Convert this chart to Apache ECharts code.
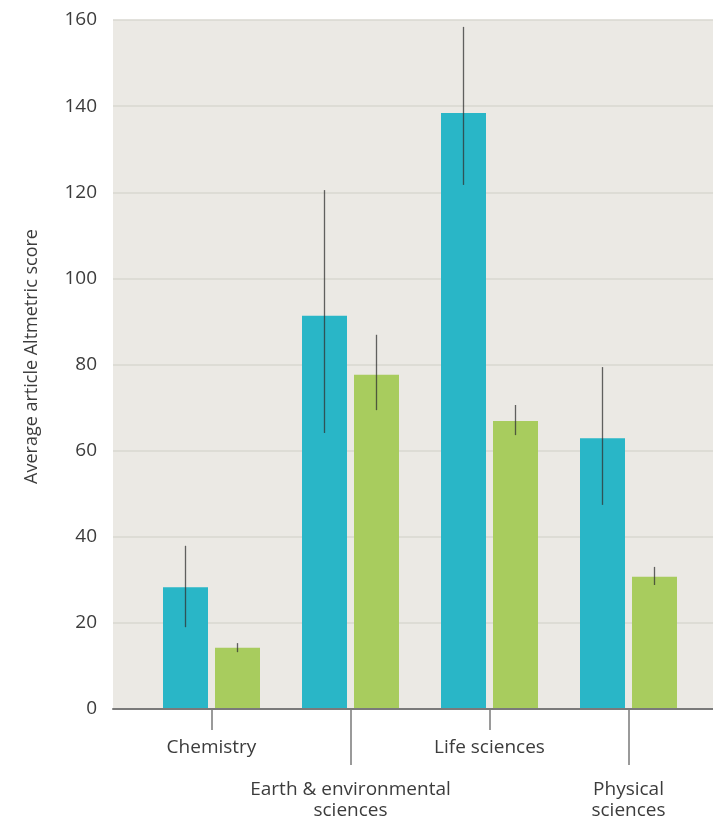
<!DOCTYPE html>
<html>
<head>
<meta charset="utf-8">
<script src="https://cdn.jsdelivr.net/npm/echarts@6/dist/echarts.min.js"></script>
<style>
html,body{margin:0;padding:0;background:#fff;}
#chart{width:713px;height:816px;}
</style>
</head>
<body>
<div id="chart"></div>
<script>
const categories = ['Chemistry', 'Earth & environmental\nsciences', 'Life sciences', 'Physical\nsciences'];
const yTicks = [0, 20, 40, 60, 80, 100, 120, 140, 160];
const blueValues = [28.3, 91.3, 138.4, 62.9];
const blueLow = [19.0, 64.1, 121.7, 47.4];
const blueHigh = [37.9, 120.5, 158.4, 79.4];
const greenValues = [14.2, 77.6, 66.9, 30.7];
const greenLow = [13.2, 69.4, 63.6, 28.8];
const greenHigh = [15.3, 86.9, 70.6, 33.0];

const BAR_W = 45, BAR_GAP = 7;
const FONT = '"Open Sans", sans-serif';
const TXT = '#3c3c3c';
const yMin = yTicks[0], yMax = yTicks[yTicks.length - 1], yStep = yTicks[1] - yTicks[0];

function errData(low, high, side) {
  return categories.map((c, i) => [i, low[i], high[i], side]);
}

const chart = echarts.init(document.getElementById('chart'), null, {renderer: 'canvas'});
chart.setOption({
  animation: false,
  backgroundColor: '#ffffff',
  grid: [
    {left: 113, right: 0, top: 20, bottom: 107, show: true, backgroundColor: '#ebe9e4', borderWidth: 0, containLabel: false, outerBoundsMode: 'none'},
    {left: 142, width: 556, top: 20, bottom: 107, containLabel: false, outerBoundsMode: 'none'}
  ],
  xAxis: [
    {gridIndex: 0, type: 'value', min: 0, max: 1, z: 10,
     axisLine: {show: true, lineStyle: {color: '#7a7a7a', width: 2}},
     axisTick: {show: false}, axisLabel: {show: false}, splitLine: {show: false}},
    {gridIndex: 1, type: 'category', data: categories, position: 'bottom',
     axisLine: {show: false},
     axisTick: {show: true, alignWithLabel: true, length: 21, interval: (i) => i % 2 === 0, lineStyle: {color: '#7a7a7a', width: 1.5}},
     axisLabel: {interval: (i) => i % 2 === 0, margin: 28, color: TXT, fontFamily: FONT, fontSize: 19, lineHeight: 21}},
    {gridIndex: 1, type: 'category', data: categories, position: 'bottom', offset: 0,
     axisLine: {show: false},
     axisTick: {show: true, alignWithLabel: true, length: 56, interval: (i) => i % 2 === 1, lineStyle: {color: '#7a7a7a', width: 1.5}},
     axisLabel: {interval: (i) => i % 2 === 1, margin: 70, color: TXT, fontFamily: FONT, fontSize: 19, lineHeight: 21}}
  ],
  yAxis: [
    {gridIndex: 0, type: 'value', min: yMin, max: yMax, interval: yStep,
     name: 'Average article Altmetric score', nameLocation: 'middle', nameGap: 72,
     nameTextStyle: {color: TXT, fontFamily: FONT, fontSize: 18, padding: [0, 0, 0, 16]},
     axisLine: {show: false}, axisTick: {show: false},
     axisLabel: {color: TXT, fontFamily: FONT, fontSize: 19, margin: 16},
     splitLine: {show: true, lineStyle: {color: '#d9d7d1', width: 1.5}}},
    {gridIndex: 1, type: 'value', min: yMin, max: yMax, interval: yStep, show: false}
  ],
  series: [
    {name: 'Blue', type: 'bar', xAxisIndex: 1, yAxisIndex: 1, data: blueValues,
     barWidth: BAR_W, barGap: (BAR_GAP / BAR_W * 100) + '%', itemStyle: {color: '#29b6c7'}},
    {name: 'Green', type: 'bar', xAxisIndex: 1, yAxisIndex: 1, data: greenValues,
     barWidth: BAR_W, itemStyle: {color: '#a8cc5e'}},
    {name: 'Error', type: 'custom', xAxisIndex: 1, yAxisIndex: 1, z: 5,
     data: errData(blueLow, blueHigh, -1).concat(errData(greenLow, greenHigh, 1)),
     renderItem: function (params, api) {
       const i = api.value(0), side = api.value(3);
       const off = side * (BAR_W + BAR_GAP) / 2;
       const p1 = api.coord([i, api.value(1)]);
       const p2 = api.coord([i, api.value(2)]);
       return {type: 'line', shape: {x1: p1[0] + off, y1: p1[1], x2: p2[0] + off, y2: p2[1]},
               style: {stroke: 'rgba(50,50,50,0.75)', lineWidth: 1.3}};
     }}
  ]
});
</script>
</body>
</html>
